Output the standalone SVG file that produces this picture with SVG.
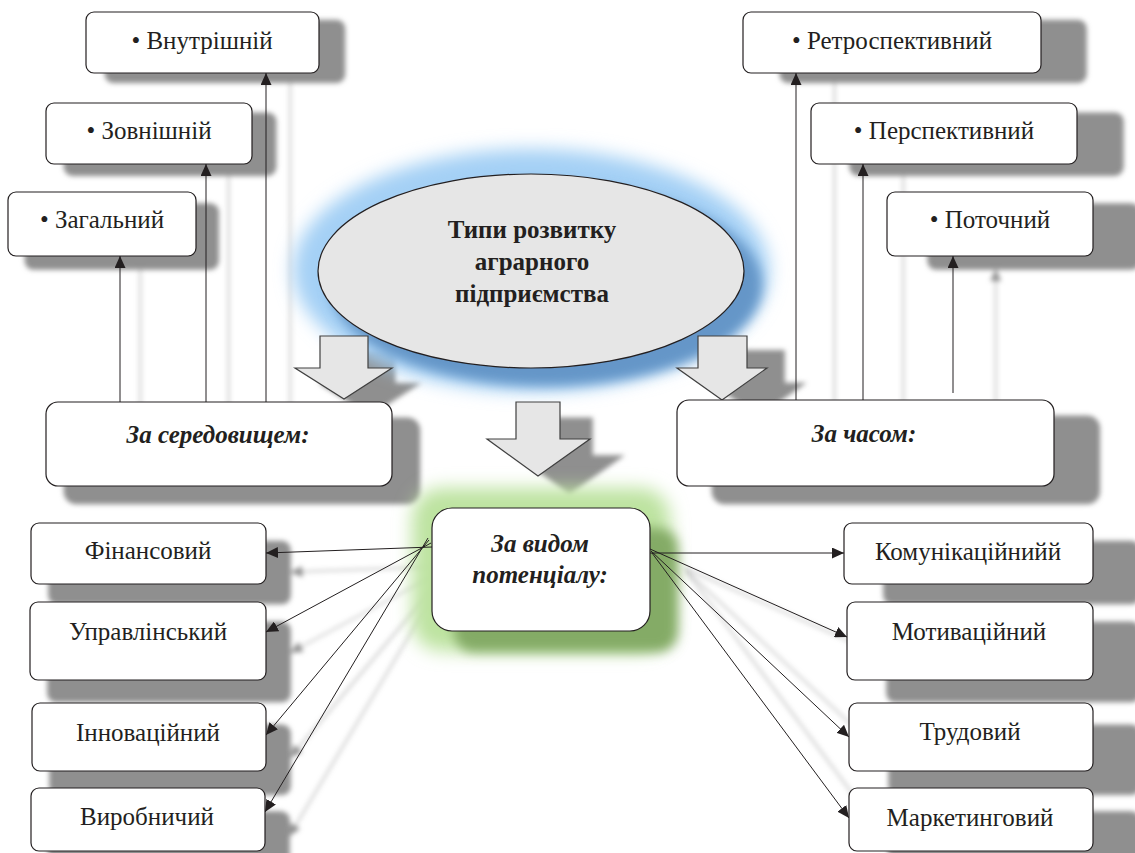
<svg xmlns="http://www.w3.org/2000/svg" width="1135" height="853" viewBox="0 0 1135 853">
<style>
.box{fill:#fff;stroke:#231f20;stroke-width:1.2}
.sbox{fill:#000;stroke:#000;stroke-width:1.2}
.conn{fill:none;stroke:#231f20;stroke-width:1;marker-end:url(#ah)}
.barrow{fill:#e6e6e6;stroke:#404040;stroke-width:1.2}
</style>
<defs>
<marker id="ah" markerUnits="userSpaceOnUse" markerWidth="12" markerHeight="11" refX="12" refY="5.5" orient="auto">
<path d="M0,0 L12,5.5 L0,11 z" fill="#231f20"/>
</marker>
<filter id="sh" filterUnits="userSpaceOnUse" x="-50" y="-50" width="1300" height="1000">
<feGaussianBlur in="SourceAlpha" stdDeviation="2.5" result="b"/>
<feFlood flood-color="#8f8f8f"/>
<feComposite in2="b" operator="in"/>
</filter>
<filter id="blur10" filterUnits="userSpaceOnUse" x="0" y="0" width="1135" height="853">
<feGaussianBlur stdDeviation="9"/>
</filter>
<filter id="blur6" filterUnits="userSpaceOnUse" x="0" y="0" width="1135" height="853">
<feGaussianBlur stdDeviation="6"/>
</filter>
</defs>
<g id="shadow-layer" transform="matrix(1.027 0 0 1.02 17 8)" filter="url(#sh)">
<path class="conn" d="M120,402 V256 M206,402 V164 M266,405 V73 M796,405 V73 M863,400 V164 M953,393 V256"/>
<path class="conn" d="M432,547 L266,553"/>
<path class="conn" d="M431,543 L266,632"/>
<path class="conn" d="M429,540 L266,735"/>
<path class="conn" d="M428,538 L265,812"/>
<path class="conn" d="M650,549 L847,637"/>
<path class="conn" d="M651,551 L849,737"/>
<path class="conn" d="M652,553 L849,818"/>
<polygon class="sbox" points="320,336 368,336 368,368 392,368 344,399 295,368 320,368"/>
<polygon class="sbox" points="516,402 560,402 560,439 590,439 538,476 487,439 516,439"/>
<polygon class="sbox" points="698,336 747,336 747,368 767,368 722,400 677,368 698,368"/>
<rect class="sbox" x="86" y="12" width="233" height="61" rx="8"/>
<rect class="sbox" x="46" y="103" width="206" height="61" rx="8"/>
<rect class="sbox" x="8" y="192" width="188" height="64" rx="8"/>
<rect class="sbox" x="743" y="12" width="298" height="61" rx="8"/>
<rect class="sbox" x="811" y="103" width="266" height="61" rx="8"/>
<rect class="sbox" x="887" y="192" width="206" height="64" rx="8"/>
<rect class="sbox" x="46" y="402" width="346" height="84" rx="12"/>
<rect class="sbox" x="677" y="400" width="377" height="86" rx="12"/>
<rect class="sbox" x="31" y="523" width="235" height="61" rx="8"/>
<rect class="sbox" x="30" y="602" width="236" height="78" rx="8"/>
<rect class="sbox" x="32" y="703" width="234" height="68" rx="8"/>
<rect class="sbox" x="31" y="788" width="234" height="63" rx="8"/>
<rect class="sbox" x="844" y="523" width="249" height="61" rx="8"/>
<rect class="sbox" x="847" y="602" width="246" height="78" rx="8"/>
<rect class="sbox" x="849" y="703" width="244" height="68" rx="8"/>
<rect class="sbox" x="849" y="788" width="244" height="63" rx="8"/>
</g>
<ellipse cx="531" cy="270" rx="238" ry="121" fill="#a4d0f5" filter="url(#blur10)"/>
<ellipse cx="546" cy="285" rx="216" ry="101" fill="#6596c8" filter="url(#blur6)"/>
<g id="node-root">
<ellipse cx="531" cy="271" rx="213" ry="97" fill="#e6e6e6" stroke="#231f20" stroke-width="1.2"/>
<text x="532" y="238" fill="#231f20" text-anchor="middle" font-family="Liberation Serif" font-size="25" font-weight="bold">Типи розвитку</text>
<text x="532" y="270" fill="#231f20" text-anchor="middle" font-family="Liberation Serif" font-size="25" font-weight="bold">аграрного</text>
<text x="532" y="302" fill="#231f20" text-anchor="middle" font-family="Liberation Serif" font-size="25" font-weight="bold">підприємства</text>
</g>
<rect x="412" y="488" width="258" height="163" rx="30" fill="#bde3a0" filter="url(#blur10)"/>
<rect x="454" y="528" width="224" height="124" rx="20" fill="#84ab66" filter="url(#blur6)"/>
<g id="node-potential">
<rect class="box" x="432" y="508" width="218" height="123" rx="20"/>
<text x="540" y="552" fill="#231f20" text-anchor="middle" font-family="Liberation Serif" font-size="25" font-weight="bold" font-style="italic">За видом</text>
<text x="540" y="583" fill="#231f20" text-anchor="middle" font-family="Liberation Serif" font-size="25" font-weight="bold" font-style="italic">потенціалу:</text>
</g>
<g id="block-arrows">
<polygon class="barrow" points="320,336 368,336 368,368 392,368 344,399 295,368 320,368"/>
<polygon class="barrow" points="516,402 560,402 560,439 590,439 538,476 487,439 516,439"/>
<polygon class="barrow" points="698,336 747,336 747,368 767,368 722,400 677,368 698,368"/>
</g>
<g id="connectors">
<path class="conn" d="M120,402 V256"/>
<path class="conn" d="M206,402 V164"/>
<path class="conn" d="M266,405 V73"/>
<path class="conn" d="M796,405 V73"/>
<path class="conn" d="M863,400 V164"/>
<path class="conn" d="M953,393 V256"/>
<path class="conn" d="M432,547 L266,553"/>
<path class="conn" d="M431,543 L266,632"/>
<path class="conn" d="M429,540 L266,735"/>
<path class="conn" d="M428,538 L265,812"/>
<path class="conn" d="M650,553 L844,553"/>
<path class="conn" d="M650,549 L847,637"/>
<path class="conn" d="M651,551 L849,737"/>
<path class="conn" d="M652,553 L849,818"/>
</g>
<g id="node-vnutr"><rect class="box" x="86" y="12" width="233" height="61" rx="8"/><text x="202" y="49" fill="#231f20" text-anchor="middle" font-family="Liberation Serif" font-size="25">• Внутрішній</text></g>
<g id="node-zovn"><rect class="box" x="46" y="103" width="206" height="61" rx="8"/><text x="149" y="139" fill="#231f20" text-anchor="middle" font-family="Liberation Serif" font-size="25">• Зовнішній</text></g>
<g id="node-zag"><rect class="box" x="8" y="192" width="188" height="64" rx="8"/><text x="102" y="228" fill="#231f20" text-anchor="middle" font-family="Liberation Serif" font-size="25">• Загальний</text></g>
<g id="node-retro"><rect class="box" x="743" y="12" width="298" height="61" rx="8"/><text x="892" y="49" fill="#231f20" text-anchor="middle" font-family="Liberation Serif" font-size="25">• Ретроспективний</text></g>
<g id="node-persp"><rect class="box" x="811" y="103" width="266" height="61" rx="8"/><text x="944" y="139" fill="#231f20" text-anchor="middle" font-family="Liberation Serif" font-size="25">• Перспективний</text></g>
<g id="node-potoch"><rect class="box" x="887" y="192" width="206" height="64" rx="8"/><text x="990" y="228" fill="#231f20" text-anchor="middle" font-family="Liberation Serif" font-size="25">• Поточний</text></g>
<g id="node-seredov"><rect class="box" x="46" y="402" width="346" height="84" rx="12"/><text x="218" y="443" fill="#231f20" text-anchor="middle" font-family="Liberation Serif" font-size="25" font-weight="bold" font-style="italic">За середовищем:</text></g>
<g id="node-chas"><rect class="box" x="677" y="400" width="377" height="86" rx="12"/><text x="864" y="442" fill="#231f20" text-anchor="middle" font-family="Liberation Serif" font-size="25" font-weight="bold" font-style="italic">За часом:</text></g>
<g id="node-fin"><rect class="box" x="31" y="523" width="235" height="61" rx="8"/><text x="148" y="559" fill="#231f20" text-anchor="middle" font-family="Liberation Serif" font-size="25">Фінансовий</text></g>
<g id="node-upr"><rect class="box" x="30" y="602" width="236" height="78" rx="8"/><text x="148" y="640" fill="#231f20" text-anchor="middle" font-family="Liberation Serif" font-size="25">Управлінський</text></g>
<g id="node-innov"><rect class="box" x="32" y="703" width="234" height="68" rx="8"/><text x="148" y="741" fill="#231f20" text-anchor="middle" font-family="Liberation Serif" font-size="25">Інноваційний</text></g>
<g id="node-vyrob"><rect class="box" x="31" y="788" width="234" height="63" rx="8"/><text x="147" y="825" fill="#231f20" text-anchor="middle" font-family="Liberation Serif" font-size="25">Виробничий</text></g>
<g id="node-komun"><rect class="box" x="844" y="523" width="249" height="61" rx="8"/><text x="968" y="560" fill="#231f20" text-anchor="middle" font-family="Liberation Serif" font-size="25">Комунікаційнийй</text></g>
<g id="node-motiv"><rect class="box" x="847" y="602" width="246" height="78" rx="8"/><text x="969" y="640" fill="#231f20" text-anchor="middle" font-family="Liberation Serif" font-size="25">Мотиваційний</text></g>
<g id="node-trud"><rect class="box" x="849" y="703" width="244" height="68" rx="8"/><text x="970" y="740" fill="#231f20" text-anchor="middle" font-family="Liberation Serif" font-size="25">Трудовий</text></g>
<g id="node-market"><rect class="box" x="849" y="788" width="244" height="63" rx="8"/><text x="970" y="826" fill="#231f20" text-anchor="middle" font-family="Liberation Serif" font-size="25">Маркетинговий</text></g>
</svg>
